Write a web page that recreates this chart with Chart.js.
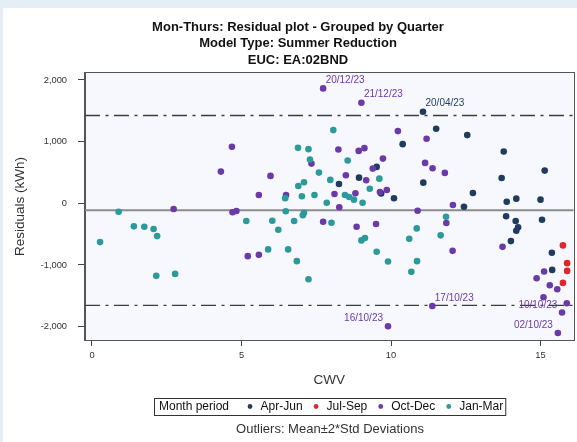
<!DOCTYPE html>
<html>
<head>
<meta charset="utf-8">
<title>Mon-Thurs: Residual plot - Grouped by Quarter</title>
<script src="https://cdn.jsdelivr.net/npm/chart.js@4.4.1/dist/chart.umd.min.js"></script>
<style>
  html, body { margin: 0; padding: 0; background: #e3eef7; }
  #wrap { width: 577px; height: 442px; position: relative; }
  canvas { display: block; }
</style>
</head>
<body>
<div id="wrap"><canvas id="chart" width="577" height="442"></canvas></div>
<script>
// Quarter groups, in legend order
const groups = ['Apr-Jun', 'Jul-Sep', 'Oct-Dec', 'Jan-Mar'];
const groupColors = ['#1f3b5e', '#e0252d', '#6a3aa9', '#2c9a9a'];

// CWV and residual (kWh) for each quarter
const aprJunCwv   = [11.07, 11.51, 12.55, 10.39, 11.08, 10.10, 12.74, 12.44, 9.52, 8.93, 8.26, 9.67,
                     13.77, 15.14, 13.70, 13.87, 14.19, 15.00, 13.85, 14.17, 15.05, 14.25, 14.19, 14.01, 15.38, 15.39];
const aprJunResid = [1485, 1208, 1106, 959, 335, 81, 167, -55, 590, 416, 314, 159,
                     839, 530, 411, 26, 75, 59, -211, -288, -267, -390, -445, -613, -803, -1080];

const julSepCwv   = [15.75, 15.89, 15.89, 15.75];
const julSepResid = [-683, -971, -1096, -1291];

const octDecCwv   = [7.73, 9.01, 2.73, 4.68, 4.31, 5.97, 5.58, 4.70, 4.83, 5.21, 5.58, 6.49,
                     8.24, 8.92, 9.11, 7.34, 9.73, 9.39, 8.49, 9.17, 9.63, 8.11, 8.81, 8.27,
                     7.73, 8.85, 9.50, 10.23, 11.19, 11.14, 11.39, 11.80, 9.86, 12.07, 10.89, 11.85,
                     12.06, 11.38, 9.90, 13.73, 15.12, 14.87, 15.31, 15.56, 15.10, 15.88, 15.72, 15.58];
const octDecResid = [1863, 1631, -93, 915, 514, 444, 135, -146, -125, -857, -836, 135,
                     872, 850, 894, 644, 725, 563, 455, 374, 184, 151, 163, -65,
                     -299, -380, -337, 1171, 1046, 655, 569, 493, 216, -28, -120, -320,
                     -771, -1665, -1995, -706, -1106, -1215, -1328, -1393, -1524, -1621, -1772, -2104];

const janMarCwv   = [0.27, 0.89, 1.40, 1.75, 2.06, 2.18, 2.15, 2.78, 5.16, 6.03, 6.23, 5.89,
                     6.46, 6.48, 8.07, 6.89, 7.24, 7.29, 8.55, 7.59, 7.97, 9.61, 7.09, 6.90,
                     9.29, 7.02, 7.44, 8.46, 8.60, 8.76, 7.85, 9.05, 7.09, 7.05, 6.76, 8.01,
                     9.01, 9.13, 6.56, 9.52, 6.85, 7.24, 11.84, 10.86, 11.66, 10.61, 9.90, 10.87, 10.68];
const janMarResid = [-629, -136, -374, -380, -418, -532, -1177, -1145, -288, -283, -429, -748,
                     81, -130, 1187, 899, 878, 709, 693, 498, 379, 400, 341, 281,
                     237, 114, 135, 135, 102, 59, 10, 10, -153, -195, -288, -315,
                     -602, -564, -748, -787, -938, -1231, -218, -407, -520, -576, -943, -938, -1112];

// Mean residual and the mean ± 2 std deviation limits
const meanResid = -114;
const outlierLimits = [1424, -1654];

// Axis ranges and ticks
const xRange = [-0.234, 16.11];
const yRange = [-2217, 2113];
const xTicks = [0, 5, 10, 15];
const yTicks = [-2000, -1000, 0, 1000, 2000];

// Dated outliers: group, point index in that group, date text, label side
const outlierLabels = [
  { group: 2, index: 0,  text: '20/12/23', side: 'ne' },
  { group: 2, index: 1,  text: '21/12/23', side: 'ne' },
  { group: 0, index: 0,  text: '20/04/23', side: 'ne' },
  { group: 2, index: 37, text: '17/10/23', side: 'ne' },
  { group: 2, index: 38, text: '16/10/23', side: 'nw' },
  { group: 2, index: 45, text: '10/10/23', side: 'w' },
  { group: 2, index: 47, text: '02/10/23', side: 'nw' }
];

const FONT = "'Liberation Sans', Arial, Helvetica, sans-serif";

const seriesCwv = [aprJunCwv, julSepCwv, octDecCwv, janMarCwv];
const seriesResid = [aprJunResid, julSepResid, octDecResid, janMarResid];

const pointSets = groups.map((name, g) => ({
  type: 'scatter',
  label: name,
  data: seriesCwv[g].map((x, i) => ({ x: x, y: seriesResid[g][i] })),
  backgroundColor: groupColors[g],
  borderColor: groupColors[g],
  borderWidth: 0,
  pointRadius: 3.3,
  pointHoverRadius: 3.3,
  order: groups.length - g
}));

function hLine(value, color, width, dash) {
  return {
    type: 'line',
    label: '',
    data: [{ x: xRange[0], y: value }, { x: xRange[1], y: value }],
    borderColor: color,
    borderWidth: width,
    borderDash: dash,
    pointRadius: 0,
    fill: false,
    order: 10
  };
}

const refSets = [
  hLine(meanResid, '#8c8c8c', 2, []),
  hLine(outlierLimits[0], '#3c3c3c', 1.3, [15, 5.5, 3, 5.5]),
  hLine(outlierLimits[1], '#3c3c3c', 1.3, [15, 5.5, 3, 5.5])
];

// Page panel, plot background and frame
const framePlugin = {
  id: 'frame',
  beforeDraw(chart) {
    const { ctx, chartArea: a } = chart;
    ctx.save();
    ctx.fillStyle = '#e3eef7';
    ctx.fillRect(0, 0, chart.width, chart.height);
    ctx.fillStyle = '#ffffff';
    ctx.fillRect(3, 8, chart.width - 3, chart.height - 8);
    ctx.fillStyle = '#f7f8fe';
    ctx.fillRect(a.left, a.top, a.right - a.left, a.bottom - a.top);
    ctx.restore();
  },
  afterDraw(chart) {
    const { ctx, chartArea: a } = chart;
    ctx.save();
    ctx.strokeStyle = '#555555';
    ctx.lineWidth = 1;
    ctx.strokeRect(Math.round(a.left) - 0.5, Math.round(a.top) - 0.5,
                   Math.round(a.right - a.left) + 1, Math.round(a.bottom - a.top) + 1);
    ctx.restore();
  }
};

// Title lines above the plot
const titleLines = ['Mon-Thurs: Residual plot - Grouped by Quarter', 'Model Type: Summer Reduction', 'EUC: EA:02BND'];
const titlePlugin = {
  id: 'titles',
  afterDraw(chart) {
    const { ctx } = chart;
    ctx.save();
    ctx.fillStyle = '#111111';
    ctx.font = 'bold 13px ' + FONT;
    ctx.textAlign = 'center';
    ctx.textBaseline = 'middle';
    titleLines.forEach((t, i) => ctx.fillText(t, 298, 27 + i * 16.7));
    ctx.restore();
  }
};

// Date labels beside outlying points
const outlierLabelPlugin = {
  id: 'outlierLabels',
  afterDatasetsDraw(chart) {
    const { ctx } = chart;
    ctx.save();
    ctx.font = '10px ' + FONT;
    ctx.textBaseline = 'middle';
    outlierLabels.forEach(l => {
      const el = chart.getDatasetMeta(l.group).data[l.index];
      if (!el) return;
      ctx.fillStyle = groupColors[l.group];
      let x = el.x, y = el.y;
      if (l.side === 'ne') { ctx.textAlign = 'left';  x += 2.5; y -= 8; }
      if (l.side === 'nw') { ctx.textAlign = 'right'; x -= 5;   y -= 8; }
      if (l.side === 'w')  { ctx.textAlign = 'right'; x -= 9.5; y += 2; }
      ctx.fillText(l.text, x, y);
    });
    ctx.restore();
  }
};

// Boxed legend with the group title, plus the footnote
const legendPlugin = {
  id: 'boxLegend',
  afterDraw(chart) {
    const { ctx } = chart;
    const top = 398.5, bottom = 415.5, cy = 406.5;
    ctx.save();
    ctx.font = '12px ' + FONT;
    ctx.textBaseline = 'middle';
    ctx.textAlign = 'left';
    ctx.fillStyle = '#111111';
    let x = 159;
    ctx.fillText('Month period', x, cy);
    x += ctx.measureText('Month period').width + 21;
    pointSets.forEach((ds, i) => {
      ctx.fillStyle = ds.backgroundColor;
      ctx.beginPath();
      ctx.arc(x, cy, 2.4, 0, Math.PI * 2);
      ctx.fill();
      x += 10.5;
      ctx.fillStyle = '#111111';
      ctx.fillText(ds.label, x, cy);
      x += ctx.measureText(ds.label).width;
      if (i < pointSets.length - 1) x += 13.5;
    });
    ctx.strokeStyle = '#333333';
    ctx.lineWidth = 1;
    ctx.strokeRect(154.5, top, x + 2.5 - 154.5, bottom - top);

    ctx.font = '13px ' + FONT;
    ctx.textAlign = 'center';
    ctx.fillStyle = '#333333';
    ctx.fillText('Outliers: Mean\u00B12*Std Deviations', 330, 429);
    ctx.restore();
  }
};

new Chart(document.getElementById('chart'), {
  data: { datasets: pointSets.concat(refSets) },
  options: {
    responsive: false,
    animation: false,
    devicePixelRatio: 1,
    layout: { padding: { top: 73, right: 3, bottom: 54, left: 0 } },
    plugins: {
      legend: { display: false },
      title: { display: false },
      tooltip: { enabled: false }
    },
    scales: {
      x: {
        type: 'linear',
        min: xRange[0],
        max: xRange[1],
        afterBuildTicks: s => { s.ticks = xTicks.map(v => ({ value: v })); },
        afterFit: s => { s.height = 48; },
        grid: { drawOnChartArea: false, drawTicks: true, tickLength: 6, color: '#444444' },
        border: { display: true, color: '#555555' },
        ticks: { padding: 4, color: '#333333', font: { family: FONT, size: 9.3 }, maxRotation: 0 },
        title: { display: true, text: 'CWV', color: '#333333', font: { family: FONT, size: 13.5 }, padding: 0 }
      },
      y: {
        type: 'linear',
        min: yRange[0],
        max: yRange[1],
        afterBuildTicks: s => { s.ticks = yTicks.map(v => ({ value: v })); },
        afterFit: s => { s.width = 85; },
        grid: { drawOnChartArea: false, drawTicks: true, tickLength: 7, color: '#444444' },
        border: { display: true, color: '#555555' },
        ticks: {
          padding: 11,
          color: '#333333',
          font: { family: FONT, size: 9.3 },
          callback: v => v.toLocaleString('en-US')
        },
        title: { display: true, text: 'Residuals (kWh)', color: '#333333', font: { family: FONT, size: 13.5 }, padding: { top: 12, bottom: 0 } }
      }
    }
  },
  plugins: [framePlugin, titlePlugin, outlierLabelPlugin, legendPlugin]
});
</script>
</body>
</html>
